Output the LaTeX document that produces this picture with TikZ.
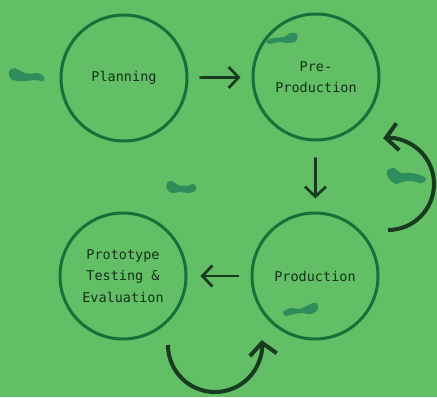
\documentclass[tikz,border=0pt]{standalone}
\usepackage{fontspec}
\newfontfamily\stagefont{DejaVu Sans Mono}
\usetikzlibrary{arrows.meta}

\definecolor{paper}{HTML}{62BF65}
\definecolor{ring}{HTML}{17703A}
\definecolor{ink}{HTML}{183A1F}
\definecolor{blot}{HTML}{2F8D5C}

\begin{document}
\begin{tikzpicture}[x=1pt,y=-1pt,
  stage/.style={circle,draw=ring,line width=3pt,minimum size=126pt,inner sep=0pt,
    align=center,text=ink!85!black,font=\stagefont\fontsize{13.5}{21.5}\selectfont},
  flow/.style={draw=ink,line width=2.7pt,-{Straight Barb[length=10pt,width=21pt]}},
  loop/.style={draw=ink,line width=4pt,-{Straight Barb[length=12pt,width=27pt]}},
  smudge/.style={fill=blot}]
\fill[paper] (0,0) rectangle (437,397);
\useasboundingbox (0,0) rectangle (437,397);

% stages
\node[stage] (plan)  at (124,78)  {Planning};
\node[stage] (pre)   at (316,77)  {Pre-\\Production};
\node[stage] (prod)  at (315,276) {Production};
\node[stage] (proto) at (123,276) {Prototype\\Testing \&\\Evaluation};

% straight steps
\draw[flow,shorten <=11pt,shorten >=11pt] (plan) -- (pre);
\draw[flow,shorten <=16pt,shorten >=13pt] (pre) -- (prod);
\draw[flow,shorten <=12pt,shorten >=13pt] (prod) -- (proto);

% loop-backs
\coordinate (backup) at (388,230);
\coordinate (retest) at (168,345);
\draw[loop] (backup) arc[start angle=90,end angle=-96,radius=46];
\draw[loop] (retest) arc[start angle=180,end angle=-6,radius=47];

% brush marks
\fill[smudge] plot[smooth cycle,tension=0.6] coordinates
  {(9,71) (15,68) (22,72) (30,74) (38,73) (44,77) (43,81) (35,80) (26,81) (19,81) (11,79)};
\fill[smudge] plot[smooth cycle,tension=0.6] coordinates
  {(167,183) (172,181) (178,185) (186,186) (194,184) (196,190) (189,193) (180,192) (172,193) (167,189)};
\fill[smudge] plot[smooth cycle,tension=0.6] coordinates
  {(266,41) (274,38) (284,37) (290,33) (297,34) (296,41) (288,43) (279,42) (270,44)};
\fill[smudge] plot[smooth cycle,tension=0.6] coordinates
  {(387,171) (394,168) (401,173) (411,173) (420,175) (426,179) (422,183) (411,181) (402,182) (396,184) (389,179)};
\fill[smudge] plot[smooth cycle,tension=0.6] coordinates
  {(283,312) (291,308) (300,309) (308,305) (316,303) (318,309) (311,314) (303,313) (294,314) (286,316)};
\end{tikzpicture}
\end{document}
